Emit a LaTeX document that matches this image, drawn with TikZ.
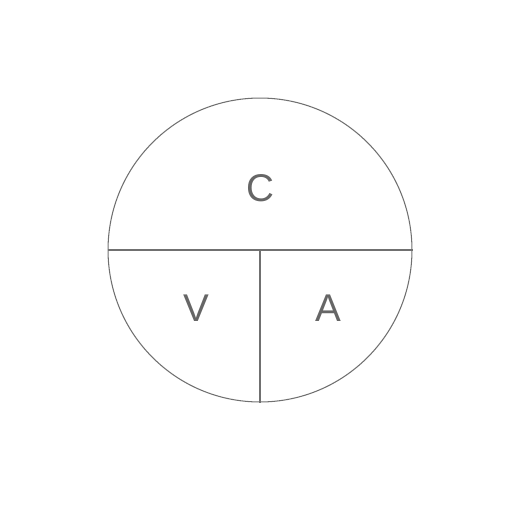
\documentclass[tikz,border=0pt]{standalone}
\usepackage{fontspec}
\setmainfont{Liberation Sans}
\usepackage{tikz}
\usetikzlibrary{positioning, calc}

\definecolor{linegray}{HTML}{707070}
\definecolor{textgray}{HTML}{666666}

\begin{document}
\begin{tikzpicture}[
    x=0.02cm, y=-0.02cm,
    part/.style={text=textgray, font=\fontsize{22}{26}\selectfont},
    edge/.style={draw=linegray, line width=0.6pt},
]
    \useasboundingbox (0,0) rectangle (512,514);

    % outer circle
    \node[circle, edge, minimum size=6.08cm, inner sep=0pt] (whole) at (260,250) {};
    \coordinate (west) at (whole.west);
    \coordinate (east) at (whole.east);
    \coordinate (mid) at (whole.center);
    \coordinate (bottom) at (whole.south);

    % dividers
    \draw[edge] (west) -- (east);
    \draw[edge] (mid) -- (bottom);

    % labels
    \node[part] (c) at (260,188) {C};
    \node[part] (v) at (196,308) {V};
    \node[part] (a) at (328,308) {A};
\end{tikzpicture}
\end{document}
